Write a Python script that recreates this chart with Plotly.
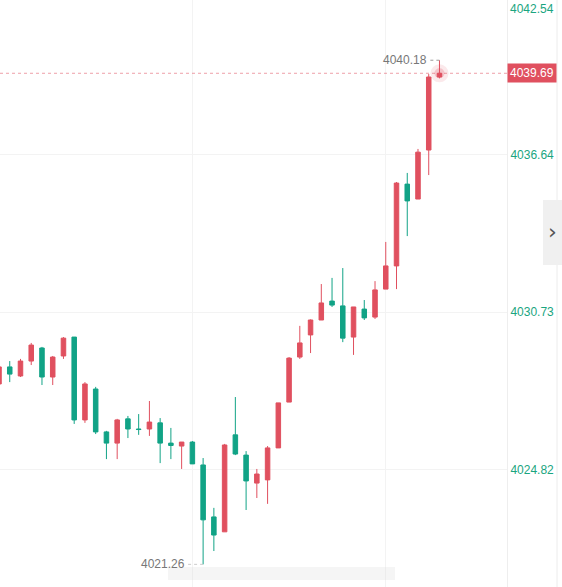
import plotly.graph_objects as go

# ---- data ----
opens  = [4028.03, 4028.67, 4028.33, 4028.89, 4029.38, 4028.29, 4029.08, 4029.79, 4026.68, 4027.84,
          4026.23, 4025.81, 4026.72, 4026.34, 4026.34, 4026.57, 4025.81, 4025.70, 4025.85, 4024.99,
          4023.04, 4022.48, 4026.12, 4025.36, 4024.31, 4024.43, 4025.63, 4027.35, 4029.04, 4029.87,
          4030.43, 4031.14, 4030.96, 4029.79, 4030.84, 4030.54, 4031.59, 4032.46, 4035.53, 4034.97,
          4036.81, 4039.55]
highs  = [4028.74, 4028.89, 4028.97, 4029.57, 4029.42, 4029.08, 4029.79, 4029.79, 4028.10, 4027.92,
          4026.27, 4026.72, 4026.83, 4026.90, 4027.39, 4026.75, 4026.38, 4025.85, 4025.89, 4025.25,
          4023.38, 4025.78, 4027.54, 4025.51, 4024.84, 4025.70, 4027.32, 4029.04, 4030.21, 4030.45,
          4031.78, 4032.01, 4032.38, 4030.92, 4031.18, 4031.89, 4033.36, 4035.61, 4035.95, 4036.85,
          4039.66, 4040.18]
lows   = [4027.95, 4028.10, 4028.29, 4028.74, 4027.99, 4027.99, 4028.97, 4026.53, 4026.57, 4026.15,
          4025.21, 4025.21, 4026.00, 4026.12, 4026.08, 4025.06, 4025.21, 4024.84, 4025.03, 4021.26,
          4021.76, 4022.48, 4025.36, 4023.30, 4023.75, 4023.53, 4025.63, 4027.35, 4028.97, 4029.19,
          4030.43, 4030.92, 4029.60, 4029.12, 4030.43, 4030.47, 4031.59, 4031.59, 4033.58, 4034.97,
          4035.87, 4039.50]
closes = [4028.67, 4028.40, 4028.89, 4029.49, 4028.29, 4029.04, 4029.75, 4026.68, 4028.03, 4026.23,
          4025.81, 4026.68, 4026.34, 4026.32, 4026.60, 4025.81, 4025.72, 4025.85, 4025.03, 4022.93,
          4022.36, 4025.74, 4025.40, 4024.39, 4024.65, 4025.63, 4027.32, 4029.00, 4029.57, 4030.43,
          4031.07, 4030.99, 4029.75, 4030.92, 4030.51, 4031.56, 4032.46, 4035.57, 4034.90, 4036.73,
          4039.55, 4039.69]
xs = list(range(len(opens)))

ytick_vals = [4024.82, 4030.73, 4036.64]
ytick_text = ["4024.82", "4030.73", "4036.64"]
top_tick_text = "4042.54"
last_price = 4039.69
high_price = 4040.18
low_price = 4021.26

RED = "#e0505f"
GREEN = "#11a386"
LABEL_GREEN = "#1aa57f"

fig = go.Figure()
fig.add_trace(go.Candlestick(
    x=xs, open=opens, high=highs, low=lows, close=closes,
    increasing=dict(line=dict(color=RED, width=1), fillcolor=RED),
    decreasing=dict(line=dict(color=GREEN, width=1), fillcolor=GREEN),
    whiskerwidth=0, showlegend=False, hoverinfo="skip",
))
# glow on the live candle
fig.add_trace(go.Scatter(
    x=[xs[-1], xs[-1]], y=[last_price, last_price], mode="markers",
    marker=dict(size=[18, 10], color=["rgba(224,80,95,0.18)", "rgba(224,80,95,0.35)"], line=dict(width=0)),
    showlegend=False, hoverinfo="skip",
))

W, H = 562, 587
R_MARGIN = 55
PW = W - R_MARGIN

def px_x(p):
    return p / PW

def px_y(p):
    return 1 - p / H

shapes = [
    # last price dashed line
    dict(type="line", xref="paper", yref="y", x0=0, x1=1, y0=last_price, y1=last_price,
         line=dict(color="rgba(224,80,95,0.55)", width=1, dash="dot")),
    # high marker line
    dict(type="line", xref="x", yref="y", x0=40.15, x1=41, y0=high_price, y1=high_price,
         line=dict(color="#999999", width=1, dash="dot")),
    # low marker line
    dict(type="line", xref="x", yref="y", x0=17.6, x1=19, y0=low_price, y1=low_price,
         line=dict(color="#cccccc", width=1, dash="dot")),
    # right outer border
    dict(type="line", xref="paper", yref="paper", x0=px_x(557), x1=px_x(557), y0=0, y1=1,
         line=dict(color="#ececec", width=1)),
    # side panel button
    dict(type="rect", xref="paper", yref="paper", x0=px_x(543), x1=px_x(562),
         y0=px_y(265), y1=px_y(200), fillcolor="#f0f0f0", line=dict(width=0), layer="above"),
    # blurred watermark strip at the bottom
    dict(type="rect", xref="paper", yref="paper", x0=px_x(168), x1=px_x(395),
         y0=px_y(580), y1=px_y(567), fillcolor="rgba(215,215,215,0.25)", line=dict(width=0),
         layer="above"),
]

annotations = [
    dict(xref="paper", yref="y", x=1, y=last_price, xanchor="left", yanchor="middle",
         text=f"{last_price:.2f}", showarrow=False, bgcolor=RED,
         font=dict(color="white", size=12, family="Liberation Sans, Arial"), borderpad=2, xshift=0),
    dict(xref="paper", yref="paper", x=1, y=1, xanchor="left", yanchor="top", yshift=0, xshift=1,
         text=top_tick_text, showarrow=False,
         font=dict(color=LABEL_GREEN, size=12, family="Liberation Sans, Arial")),
    dict(xref="x", yref="y", x=41, y=high_price, xanchor="right", yanchor="middle", xshift=-10,
         text=f"{high_price:.2f}", showarrow=False,
         font=dict(color="#777777", size=12, family="Liberation Sans, Arial")),
    dict(xref="x", yref="y", x=19, y=low_price, xanchor="right", yanchor="middle", xshift=-16,
         text=f"{low_price:.2f}", showarrow=False,
         font=dict(color="#777777", size=12, family="Liberation Sans, Arial")),
    dict(xref="paper", yref="paper", x=px_x(552.5), y=px_y(232), xanchor="center", yanchor="middle",
         text="›", showarrow=False, font=dict(color="#555555", size=22, family="DejaVu Sans")),
]

fig.update_layout(
    width=W, height=H,
    margin=dict(l=0, r=R_MARGIN, t=0, b=0),
    paper_bgcolor="white", plot_bgcolor="white",
    boxgap=0.4,
    shapes=shapes, annotations=annotations,
    xaxis=dict(range=[0.093, 47.285], tickvals=[0, 18, 36], showticklabels=False,
               showgrid=True, gridcolor="#f3f3f3", zeroline=False, rangeslider=dict(visible=False),
               ticks="", showline=False, fixedrange=True),
    yaxis=dict(side="right", range=[4020.41, 4042.44], tickvals=ytick_vals, ticktext=ytick_text,
               tickfont=dict(color=LABEL_GREEN, size=12, family="Liberation Sans, Arial"),
               showgrid=True, gridcolor="#f3f3f3", zeroline=False, ticks="",
               showline=True, linecolor="#eeeeee", ticklabelstandoff=0, fixedrange=True),
    showlegend=False,
)

fig.write_html("out.html")
